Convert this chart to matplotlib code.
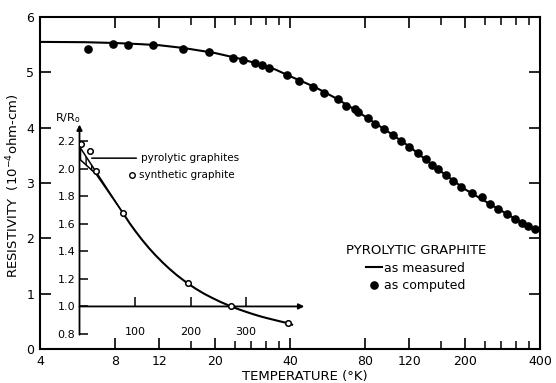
import numpy as np
import matplotlib
matplotlib.use("Agg")
import matplotlib.pyplot as plt

plt.rcParams['font.family'] = ['DejaVu Sans']

# ---- main plot data ----
measured_T = [4, 6, 8, 10, 12, 15, 20, 25, 30, 35, 40, 50, 60, 70, 80, 100, 120, 150, 200, 250, 300, 350, 400]
measured_rho = [5.55, 5.545, 5.53, 5.51, 5.49, 5.44, 5.35, 5.25, 5.15, 5.05, 4.93, 4.74, 4.55, 4.37, 4.20,
                3.91, 3.66, 3.31, 2.89, 2.63, 2.42, 2.24, 2.13]

computed_T = [6.2, 7.8, 9.0, 11.3, 14.9, 19, 23.7, 26, 29, 31, 33, 38.9, 43.5, 49.4, 54.7, 62.2, 67, 72.8,
              74.8, 82, 87.5, 95, 103, 111, 120, 130, 140, 148, 156, 168, 180, 193, 214, 234, 252, 272,
              295, 318, 339, 358, 382]
computed_rho = [5.42, 5.52, 5.50, 5.50, 5.42, 5.37, 5.26, 5.23, 5.17, 5.14, 5.08, 4.95, 4.85, 4.74, 4.63,
                4.52, 4.39, 4.34, 4.29, 4.18, 4.07, 3.98, 3.87, 3.76, 3.65, 3.54, 3.44, 3.33, 3.25, 3.15,
                3.04, 2.93, 2.82, 2.75, 2.62, 2.53, 2.44, 2.35, 2.28, 2.22, 2.17]

x_major = [4, 8, 12, 20, 40, 80, 120, 200, 400]
x_minor = [16, 24, 28, 32, 36, 160, 240, 280, 320, 360]
y_ticks = [0, 1, 2, 3, 4, 5, 6]

# ---- inset data ----
inset_curve_T = [78, 90, 100, 112, 125, 137, 150, 162, 175, 187, 195, 210, 225, 240, 255, 273,
                 287, 300, 312, 325, 337, 350, 362, 376, 383]
inset_curve_R = [1.68, 1.606, 1.55, 1.487, 1.424, 1.371, 1.318, 1.273, 1.228, 1.191, 1.167, 1.127,
                 1.091, 1.060, 1.031, 1.0, 0.979, 0.961, 0.945, 0.929, 0.916, 0.903, 0.891, 0.878, 0.868]
synthetic_T = [3, 19, 30, 78, 195, 273, 376]
synthetic_R = [2.18, 2.13, 1.98, 1.68, 1.167, 1.00, 0.878]
pyro_upper_T = [0, 78]
pyro_upper_R = [2.16, 1.68]
pyro_lower_T = [0, 30, 78]
pyro_lower_R = [2.07, 1.96, 1.68]
hatch_T = [0, 15, 28]
hatch_upper_R = [2.16, 2.07, 1.99]
hatch_lower_R = [2.07, 2.015, 1.965]
inset_yticks = [0.8, 1.0, 1.2, 1.4, 1.6, 1.8, 2.0, 2.2]
inset_xticks = [100, 200, 300]

W, H = 556, 383
fig = plt.figure(figsize=(W / 100, H / 100), dpi=100)

def px_axes(l, t, r, b):
    return [l / W, (H - b) / H, (r - l) / W, (b - t) / H]

ax = fig.add_axes(px_axes(40, 17, 540, 349))
ax.set_xscale('log')
ax.set_xlim(4, 400)
ax.set_ylim(0, 6)

ax.plot(measured_T, measured_rho, color='black', lw=1.5, label='as measured', zorder=3)
ax.plot(computed_T, computed_rho, 'o', color='black', ms=5.2, ls='none', label='as computed', zorder=4)

ax.set_xticks(x_major)
ax.set_xticklabels([str(v) for v in x_major])
ax.set_xticks(x_minor, minor=True)
ax.xaxis.set_minor_formatter(matplotlib.ticker.NullFormatter())
ax.set_yticks(y_ticks)
ax.set_yticklabels([str(v) for v in y_ticks])
ax.tick_params(axis='both', which='major', direction='in', length=8, width=1.2,
               top=True, right=True, labelsize=9, pad=4)
ax.tick_params(axis='x', which='minor', direction='in', length=5.5, width=1.1, top=True, bottom=True)
for s in ax.spines.values():
    s.set_linewidth(1.5)

ax.set_xlabel('TEMPERATURE (°K)', fontsize=9.5)
ax.xaxis.set_label_coords(0.53, -0.062)
ax.set_ylabel('RESISTIVITY  (10$^{-4}$ohm-cm)', fontsize=9.5)
ax.yaxis.set_label_coords(-0.035, 0.49)

leg = ax.legend(loc='upper left', bbox_to_anchor=((338 - 40) / 500, (349 - 236) / 332),
                frameon=False, fontsize=9, title='PYROLYTIC GRAPHITE', title_fontsize=9.5,
                handlelength=1.3, handletextpad=0.2, numpoints=1, labelspacing=0.4,
                borderpad=0.1)

# ---- inset ----
ins = fig.add_axes(px_axes(79.5, 120.4, 304.3, 334))
ins.set_facecolor('none')
ins.set_xlim(0, 405)
ins.set_ylim(0.8, 2.35)
for name in ['top', 'right', 'left']:
    ins.spines[name].set_visible(False)
ins.spines['bottom'].set_position(('data', 1.0))
ins.spines['bottom'].set_visible(False)

ins.annotate('', xy=(0, 2.32), xytext=(0, 0.795),
             arrowprops=dict(arrowstyle='-|>', lw=1.3, color='black', mutation_scale=8,
                             shrinkA=0, shrinkB=0), annotation_clip=False)
ins.annotate('', xy=(405, 1.0), xytext=(0, 1.0),
             arrowprops=dict(arrowstyle='-|>', lw=1.3, color='black', mutation_scale=8,
                             shrinkA=0, shrinkB=0), annotation_clip=False)

ins.set_yticks(inset_yticks)
ins.set_yticklabels([f'{v:.1f}' for v in inset_yticks])
ins.set_xticks(inset_xticks)
ins.set_xticklabels([str(v) for v in inset_xticks])
ins.tick_params(axis='y', direction='in', length=6, width=1.1, labelsize=8, pad=3)
ins.tick_params(axis='x', direction='in', length=6.5, width=1.1, labelsize=8, pad=15)

ins.plot(pyro_upper_T, pyro_upper_R, color='black', lw=1.1)
ins.plot(pyro_lower_T, pyro_lower_R, color='black', lw=1.1)
ins.fill_between(hatch_T, hatch_lower_R, hatch_upper_R, facecolor='none', edgecolor='black',
                 hatch='|||', lw=0)
ins.plot(inset_curve_T, inset_curve_R, color='black', lw=1.5)
ins.plot(synthetic_T, synthetic_R, 'o', ms=4, mfc='white', mec='black', mew=1.1, ls='none', zorder=5)

ins.text(-44, 2.37, 'R/R$_\\mathrm{o}$', fontsize=8, ha='left', va='center')
ins.annotate('pyrolytic graphites', xy=(22, 2.076), xytext=(110, 2.076), fontsize=7.5,
             va='center', ha='left',
             arrowprops=dict(arrowstyle='-', lw=1.1, color='black', shrinkA=1, shrinkB=0))
ins.plot([95], [1.953], 'o', ms=4, mfc='white', mec='black', mew=1.0)
ins.text(108, 1.953, 'synthetic graphite', fontsize=7.5, va='center', ha='left')

fig.savefig('out.png', dpi=100)
